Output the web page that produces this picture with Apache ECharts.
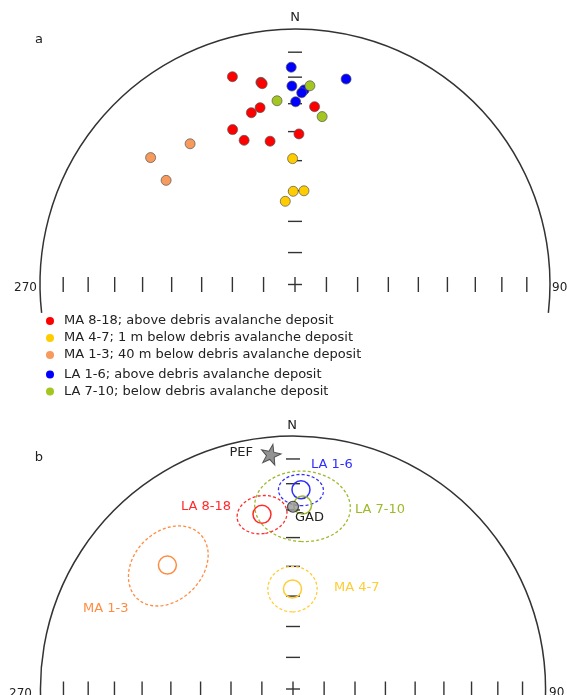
<!DOCTYPE html>
<html><head><meta charset="utf-8">
<script src="https://cdn.jsdelivr.net/npm/echarts@6/dist/echarts.min.js"></script>
<style>html,body{margin:0;padding:0;background:#fff}#c{width:567px;height:695px}</style>
</head><body><div id="c"></div>
<script>
// ---- Panel a: site-mean directions [declination, inclination] (deg)
const ma818 = [[343.2,16.2],[350.4,20.9],[350.7,21.5],[348.8,30.2],[345.7,31.3],[6.3,30.7],[338.0,35.0],[340.5,40.0],[350.1,42.6],[1.5,40.8]];
const ma47  = [[358.9,49.3],[358.9,60.2],[5.5,59.9],[353.3,63.3]];
const ma13  = [[323.2,31.9],[311.2,25.7],[308.8,35.4]];
const la16  = [[359.0,16.1],[359.1,23.4],[2.7,24.8],[2.0,25.9],[0.2,29.3],[14.0,18.3]];
const la710 = [[4.3,23.1],[354.4,28.6],[9.2,33.9]];
const seriesNames = [
  'MA 8-18; above debris avalanche deposit',
  'MA 4-7; 1 m below debris avalanche deposit',
  'MA 1-3; 40 m below debris avalanche deposit',
  'LA 1-6; above debris avalanche deposit',
  'LA 7-10; below debris avalanche deposit'
];
// ---- Panel b: group means with alpha95
const meanNames = ['LA 1-6','LA 7-10','LA 8-18','MA 1-3','MA 4-7'];
const meanDec = [2.3, 3.0, 349.9, 314.5, 359.7];
const meanInc = [22.3, 28.1, 30.6, 30.9, 57.6];
const meanA95 = [6.0, 13.2, 7.0, 12.6, 7.6];
const pef = [354.6, 7.5];
const gad = [0.0, 28.8];
// ---- Net tick marks (inclination, deg)
const tickInc = [10,20,30,40,50,60,70,80];

const colorsA = ['#ff0000','#ffcc00','#f79a5e','#0000ff','#a4c620'];
const colorsB = ['#2e2eff','#9cba2a','#ff2a2a','#ff8c42','#ffcc33'];
const FONT = '"DejaVu Sans", Verdana, sans-serif';
const rad = Math.PI/180;

// Schmidt (equal-area) projection, unit primitive circle
function proj(dec, inc){
  const r = Math.SQRT2*Math.sin((90-inc)*rad/2);
  return [r*Math.sin(dec*rad), r*Math.cos(dec*rad)];
}
function conePoints(dec, inc, a95){
  const D=dec*rad, I=inc*rad, a=a95*rad;
  const m=[Math.cos(I)*Math.cos(D), Math.cos(I)*Math.sin(D), Math.sin(I)];
  const e1=[-Math.sin(I)*Math.cos(D), -Math.sin(I)*Math.sin(D), Math.cos(I)];
  const e2=[-Math.sin(D), Math.cos(D), 0];
  const out=[];
  for(let k=0;k<=120;k++){
    const t=k*3*rad;
    const v=[0,1,2].map(j=>Math.cos(a)*m[j]+Math.sin(a)*(Math.cos(t)*e1[j]+Math.sin(t)*e2[j]));
    const inc2=Math.asin(v[2])/rad, dec2=Math.atan2(v[1],v[0])/rad;
    out.push(proj(dec2,inc2));
  }
  return out;
}

function frameSeries(gridIdx, below){
  return {
    type:'custom', xAxisIndex:gridIdx, yAxisIndex:gridIdx, z:1, silent:true,
    data:[[0,0]],
    renderItem:function(params, api){
      const c=api.coord([0,0]);
      const R=api.size([1,0])[0];
      const st={stroke:'#333', lineWidth:1.4, fill:null};
      const ch=[{type:'arc', shape:{cx:c[0], cy:c[1], r:R, startAngle:Math.PI-below*rad, endAngle:2*Math.PI+below*rad, clockwise:true}, style:{stroke:'#333', lineWidth:1.5, fill:null}}];
      tickInc.forEach(function(inc){
        const rr=proj(0,inc)[1]*R;
        ch.push({type:'line', shape:{x1:c[0]+rr, y1:c[1]-7, x2:c[0]+rr, y2:c[1]+8}, style:st});
        ch.push({type:'line', shape:{x1:c[0]-rr, y1:c[1]-7, x2:c[0]-rr, y2:c[1]+8}, style:st});
        ch.push({type:'line', shape:{x1:c[0]-7, y1:c[1]-rr, x2:c[0]+7, y2:c[1]-rr}, style:st});
      });
      ch.push({type:'line', shape:{x1:c[0]-7, y1:c[1]+0.5, x2:c[0]+7, y2:c[1]+0.5}, style:st});
      ch.push({type:'line', shape:{x1:c[0], y1:c[1]-7, x2:c[0], y2:c[1]+8}, style:st});
      return {type:'group', children:ch};
    }
  };
}

const groupsA=[ma818, ma47, ma13, la16, la710];
const series=[frameSeries(0,6.5), frameSeries(1,12)];
groupsA.forEach(function(g,i){
  series.push({
    type:'scatter', name:seriesNames[i], xAxisIndex:0, yAxisIndex:0, z:5,
    symbol:'circle', symbolSize:10,
    itemStyle:{color:colorsA[i], borderColor:'#555', borderWidth:0.7, opacity:1},
    data:g.map(p=>proj(p[0],p[1]))
  });
});
// confidence cones
series.push({
  type:'custom', xAxisIndex:1, yAxisIndex:1, z:3, silent:true,
  data:meanNames.map((n,i)=>[i,0]),
  renderItem:function(params, api){
    const i=params.dataIndex;
    const pts=conePoints(meanDec[i], meanInc[i], meanA95[i]).map(p=>api.coord(p));
    return {type:'polyline', shape:{points:pts}, style:{stroke:colorsB[i], lineWidth:1.3, lineDash:[3,2.2], fill:null}};
  }
});
// mean markers (hollow circles)
series.push({
  type:'custom', xAxisIndex:1, yAxisIndex:1, z:4, silent:true,
  data:meanNames.map((n,i)=>proj(meanDec[i], meanInc[i])),
  renderItem:function(params, api){
    const i=params.dataIndex;
    const c=api.coord([api.value(0), api.value(1)]);
    return {type:'circle', shape:{cx:c[0], cy:c[1], r:9}, style:{stroke:colorsB[i], lineWidth:1.5, fill:null}};
  }
});
series.push({
  type:'scatter', xAxisIndex:1, yAxisIndex:1, z:6, silent:true,
  symbol:'circle', symbolSize:11,
  itemStyle:{color:'#9a9a9a', borderColor:'#222', borderWidth:1.2},
  data:[proj(gad[0],gad[1])]
});
series.push({
  type:'scatter', xAxisIndex:1, yAxisIndex:1, z:6, silent:true,
  symbol:'path://M50,2 L61.8,36.2 L97.6,36.9 L69,58.6 L79.4,93 L50,72.4 L20.6,93 L31,58.6 L2.4,36.9 L38.2,36.2 Z',
  symbolSize:20, symbolRotate:-12,
  itemStyle:{color:'#777', borderColor:'#333', borderWidth:1},
  data:[proj(pef[0],pef[1])]
});

function txt(x,y,s,color,align,size){
  return {type:'text', x:x, y:y, silent:true, z:10,
    style:{text:s, fill:color||'#222', textAlign:align||'left', textVerticalAlign:'middle', fontSize:size||13, fontFamily:FONT}};
}
const graphic=[
  txt(295,18,'N','#222','center'), txt(39,40,'a','#222','center'),
  txt(37,288,'270','#222','right',12), txt(552,288,'90','#222','left',12),
  txt(292,426,'N','#222','center'), txt(39,458,'b','#222','center'),
  txt(32,694,'270','#222','right',12), txt(549,693,'90','#222','left',12),
  txt(253,453,'PEF','#222','right'),
  txt(311,465,meanNames[0],colorsB[0]),
  txt(355,510,meanNames[1],colorsB[1]),
  txt(181,507,meanNames[2],colorsB[2]),
  txt(83,609,meanNames[3],colorsB[3]),
  txt(334,588,meanNames[4],colorsB[4]),
  txt(295,518,'GAD','#222')
];

const legendBase={orient:'vertical', left:46, padding:0, itemWidth:8, itemHeight:8, itemGap:0, icon:'circle', selectedMode:false,
  itemStyle:{borderWidth:0},
  textStyle:{fontSize:13, fontFamily:FONT, color:'#222', lineHeight:17, padding:[0,0,0,5]}};

const option={
  animation:false,
  backgroundColor:'#fff',
  grid:[
    {left:40, right:17, top:29, bottom:411, containLabel:false},
    {left:40.5, right:21.5, top:436, bottom:6.5, containLabel:false}
  ],
  xAxis:[
    {gridIndex:0, type:'value', min:-1, max:1, show:false},
    {gridIndex:1, type:'value', min:-1, max:1, show:false}
  ],
  yAxis:[
    {gridIndex:0, type:'value', min:0, max:1, show:false},
    {gridIndex:1, type:'value', min:0, max:1, show:false}
  ],
  legend:[
    Object.assign({}, legendBase, {top:312.5, data:seriesNames.slice(0,3)}),
    Object.assign({}, legendBase, {top:366, data:seriesNames.slice(3)})
  ],
  graphic:graphic,
  series:series
};
const chart=echarts.init(document.getElementById('c'), null, {renderer:'canvas'});
chart.setOption(option);
</script></body></html>
